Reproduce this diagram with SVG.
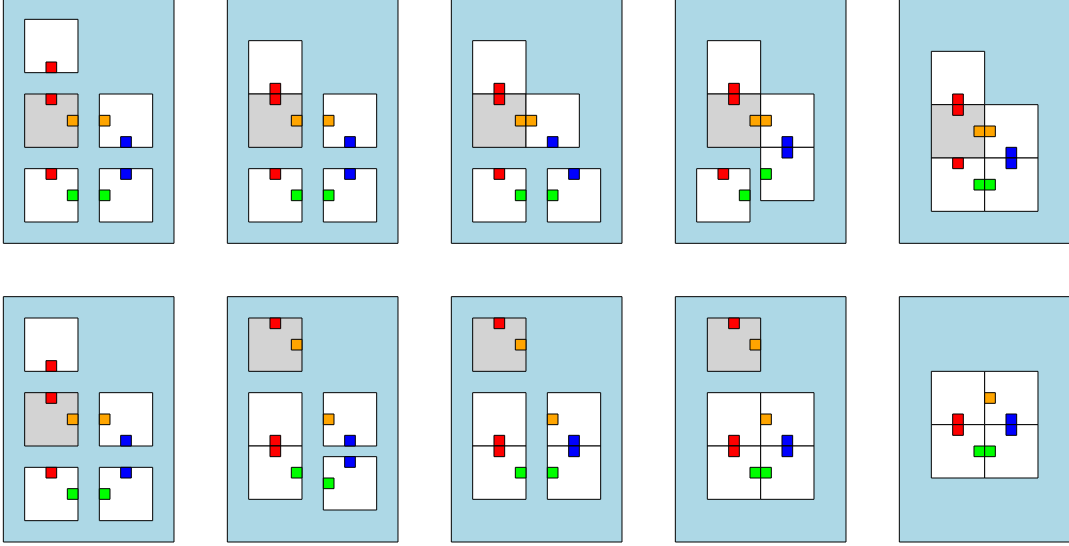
<svg xmlns="http://www.w3.org/2000/svg" width="1069" height="546" viewBox="0 0 1069 546">
<style>
rect{vector-effect:non-scaling-stroke;stroke:#000;stroke-width:1}
.panel{fill:#add8e6}
.t{fill:#fff}
.gy{fill:#d3d3d3}
.r{fill:#ff0000}
.o{fill:#ffa500}
.b{fill:#0000ff}
.g{fill:#00ff00}
</style>
<defs>
<rect id="T" width="5" height="5"/>
<rect id="M" width="1" height="1"/>
</defs>
<g id="connectors"/>
<!-- top row -->
<g id="panel-1" transform="translate(3.33,-2) scale(10.6667)">
<rect class="panel" width="16" height="23"/>
<g id="p1-tileA"><rect class="t" x="2" y="2" width="5" height="5"/><rect class="r" x="4" y="6" width="1" height="1"/></g>
<g id="p1-tileB"><rect class="gy" x="2" y="9" width="5" height="5"/><rect class="r" x="4" y="9" width="1" height="1"/><rect class="o" x="6" y="11" width="1" height="1"/></g>
<g id="p1-tileC"><rect class="t" x="9" y="9" width="5" height="5"/><rect class="o" x="9" y="11" width="1" height="1"/><rect class="b" x="11" y="13" width="1" height="1"/></g>
<g id="p1-tileD"><rect class="t" x="2" y="16" width="5" height="5"/><rect class="r" x="4" y="16" width="1" height="1"/><rect class="g" x="6" y="18" width="1" height="1"/></g>
<g id="p1-tileE"><rect class="t" x="9" y="16" width="5" height="5"/><rect class="b" x="11" y="16" width="1" height="1"/><rect class="g" x="9" y="18" width="1" height="1"/></g>
</g>
<g id="panel-2" transform="translate(227.33,-2) scale(10.6667)">
<rect class="panel" width="16" height="23"/>
<g id="p2-tileA"><rect class="t" x="2" y="4" width="5" height="5"/><rect class="r" x="4" y="8" width="1" height="1"/></g>
<g id="p2-tileB"><rect class="gy" x="2" y="9" width="5" height="5"/><rect class="r" x="4" y="9" width="1" height="1"/><rect class="o" x="6" y="11" width="1" height="1"/></g>
<g id="p2-tileC"><rect class="t" x="9" y="9" width="5" height="5"/><rect class="o" x="9" y="11" width="1" height="1"/><rect class="b" x="11" y="13" width="1" height="1"/></g>
<g id="p2-tileD"><rect class="t" x="2" y="16" width="5" height="5"/><rect class="r" x="4" y="16" width="1" height="1"/><rect class="g" x="6" y="18" width="1" height="1"/></g>
<g id="p2-tileE"><rect class="t" x="9" y="16" width="5" height="5"/><rect class="b" x="11" y="16" width="1" height="1"/><rect class="g" x="9" y="18" width="1" height="1"/></g>
</g>
<g id="panel-3" transform="translate(451.33,-2) scale(10.6667)">
<rect class="panel" width="16" height="23"/>
<g id="p3-tileA"><rect class="t" x="2" y="4" width="5" height="5"/><rect class="r" x="4" y="8" width="1" height="1"/></g>
<g id="p3-tileB"><rect class="gy" x="2" y="9" width="5" height="5"/><rect class="r" x="4" y="9" width="1" height="1"/><rect class="o" x="6" y="11" width="1" height="1"/></g>
<g id="p3-tileC"><rect class="t" x="7" y="9" width="5" height="5"/><rect class="o" x="7" y="11" width="1" height="1"/><rect class="b" x="9" y="13" width="1" height="1"/></g>
<g id="p3-tileD"><rect class="t" x="2" y="16" width="5" height="5"/><rect class="r" x="4" y="16" width="1" height="1"/><rect class="g" x="6" y="18" width="1" height="1"/></g>
<g id="p3-tileE"><rect class="t" x="9" y="16" width="5" height="5"/><rect class="b" x="11" y="16" width="1" height="1"/><rect class="g" x="9" y="18" width="1" height="1"/></g>
</g>
<g id="panel-4" transform="translate(675.33,-2) scale(10.6667)">
<rect class="panel" width="16" height="23"/>
<g id="p4-tileA"><rect class="t" x="3" y="4" width="5" height="5"/><rect class="r" x="5" y="8" width="1" height="1"/></g>
<g id="p4-tileB"><rect class="gy" x="3" y="9" width="5" height="5"/><rect class="r" x="5" y="9" width="1" height="1"/><rect class="o" x="7" y="11" width="1" height="1"/></g>
<g id="p4-tileC"><rect class="t" x="8" y="9" width="5" height="5"/><rect class="o" x="8" y="11" width="1" height="1"/><rect class="b" x="10" y="13" width="1" height="1"/></g>
<g id="p4-tileE"><rect class="t" x="8" y="14" width="5" height="5"/><rect class="b" x="10" y="14" width="1" height="1"/><rect class="g" x="8" y="16" width="1" height="1"/></g>
<g id="p4-tileD"><rect class="t" x="2" y="16" width="5" height="5"/><rect class="r" x="4" y="16" width="1" height="1"/><rect class="g" x="6" y="18" width="1" height="1"/></g>
</g>
<g id="panel-5" transform="translate(899.33,-2) scale(10.6667)">
<rect class="panel" width="16" height="23"/>
<g id="p5-tileA"><rect class="t" x="3" y="5" width="5" height="5"/><rect class="r" x="5" y="9" width="1" height="1"/></g>
<g id="p5-tileB"><rect class="gy" x="3" y="10" width="5" height="5"/><rect class="r" x="5" y="10" width="1" height="1"/><rect class="o" x="7" y="12" width="1" height="1"/></g>
<g id="p5-tileC"><rect class="t" x="8" y="10" width="5" height="5"/><rect class="o" x="8" y="12" width="1" height="1"/><rect class="b" x="10" y="14" width="1" height="1"/></g>
<g id="p5-tileD"><rect class="t" x="3" y="15" width="5" height="5"/><rect class="r" x="5" y="15" width="1" height="1"/><rect class="g" x="7" y="17" width="1" height="1"/></g>
<g id="p5-tileE"><rect class="t" x="8" y="15" width="5" height="5"/><rect class="b" x="10" y="15" width="1" height="1"/><rect class="g" x="8" y="17" width="1" height="1"/></g>
</g>
<!-- bottom row -->
<g id="panel-6" transform="translate(3.33,296.67) scale(10.6667)">
<rect class="panel" width="16" height="23"/>
<g id="p6-tileA"><rect class="t" x="2" y="2" width="5" height="5"/><rect class="r" x="4" y="6" width="1" height="1"/></g>
<g id="p6-tileB"><rect class="gy" x="2" y="9" width="5" height="5"/><rect class="r" x="4" y="9" width="1" height="1"/><rect class="o" x="6" y="11" width="1" height="1"/></g>
<g id="p6-tileC"><rect class="t" x="9" y="9" width="5" height="5"/><rect class="o" x="9" y="11" width="1" height="1"/><rect class="b" x="11" y="13" width="1" height="1"/></g>
<g id="p6-tileD"><rect class="t" x="2" y="16" width="5" height="5"/><rect class="r" x="4" y="16" width="1" height="1"/><rect class="g" x="6" y="18" width="1" height="1"/></g>
<g id="p6-tileE"><rect class="t" x="9" y="16" width="5" height="5"/><rect class="b" x="11" y="16" width="1" height="1"/><rect class="g" x="9" y="18" width="1" height="1"/></g>
</g>
<g id="panel-7" transform="translate(227.33,296.67) scale(10.6667)">
<rect class="panel" width="16" height="23"/>
<g id="p7-tileB"><rect class="gy" x="2" y="2" width="5" height="5"/><rect class="r" x="4" y="2" width="1" height="1"/><rect class="o" x="6" y="4" width="1" height="1"/></g>
<g id="p7-tileA"><rect class="t" x="2" y="9" width="5" height="5"/><rect class="r" x="4" y="13" width="1" height="1"/></g>
<g id="p7-tileD"><rect class="t" x="2" y="14" width="5" height="5"/><rect class="r" x="4" y="14" width="1" height="1"/><rect class="g" x="6" y="16" width="1" height="1"/></g>
<g id="p7-tileC"><rect class="t" x="9" y="9" width="5" height="5"/><rect class="o" x="9" y="11" width="1" height="1"/><rect class="b" x="11" y="13" width="1" height="1"/></g>
<g id="p7-tileE"><rect class="t" x="9" y="15" width="5" height="5"/><rect class="b" x="11" y="15" width="1" height="1"/><rect class="g" x="9" y="17" width="1" height="1"/></g>
</g>
<g id="panel-8" transform="translate(451.33,296.67) scale(10.6667)">
<rect class="panel" width="16" height="23"/>
<g id="p8-tileB"><rect class="gy" x="2" y="2" width="5" height="5"/><rect class="r" x="4" y="2" width="1" height="1"/><rect class="o" x="6" y="4" width="1" height="1"/></g>
<g id="p8-tileA"><rect class="t" x="2" y="9" width="5" height="5"/><rect class="r" x="4" y="13" width="1" height="1"/></g>
<g id="p8-tileD"><rect class="t" x="2" y="14" width="5" height="5"/><rect class="r" x="4" y="14" width="1" height="1"/><rect class="g" x="6" y="16" width="1" height="1"/></g>
<g id="p8-tileC"><rect class="t" x="9" y="9" width="5" height="5"/><rect class="o" x="9" y="11" width="1" height="1"/><rect class="b" x="11" y="13" width="1" height="1"/></g>
<g id="p8-tileE"><rect class="t" x="9" y="14" width="5" height="5"/><rect class="b" x="11" y="14" width="1" height="1"/><rect class="g" x="9" y="16" width="1" height="1"/></g>
</g>
<g id="panel-9" transform="translate(675.33,296.67) scale(10.6667)">
<rect class="panel" width="16" height="23"/>
<g id="p9-tileB"><rect class="gy" x="3" y="2" width="5" height="5"/><rect class="r" x="5" y="2" width="1" height="1"/><rect class="o" x="7" y="4" width="1" height="1"/></g>
<g id="p9-tileA"><rect class="t" x="3" y="9" width="5" height="5"/><rect class="r" x="5" y="13" width="1" height="1"/></g>
<g id="p9-tileC"><rect class="t" x="8" y="9" width="5" height="5"/><rect class="o" x="8" y="11" width="1" height="1"/><rect class="b" x="10" y="13" width="1" height="1"/></g>
<g id="p9-tileD"><rect class="t" x="3" y="14" width="5" height="5"/><rect class="r" x="5" y="14" width="1" height="1"/><rect class="g" x="7" y="16" width="1" height="1"/></g>
<g id="p9-tileE"><rect class="t" x="8" y="14" width="5" height="5"/><rect class="b" x="10" y="14" width="1" height="1"/><rect class="g" x="8" y="16" width="1" height="1"/></g>
</g>
<g id="panel-10" transform="translate(899.33,296.67) scale(10.6667)">
<rect class="panel" width="16" height="23"/>
<g id="p10-tileA"><rect class="t" x="3" y="7" width="5" height="5"/><rect class="r" x="5" y="11" width="1" height="1"/></g>
<g id="p10-tileC"><rect class="t" x="8" y="7" width="5" height="5"/><rect class="o" x="8" y="9" width="1" height="1"/><rect class="b" x="10" y="11" width="1" height="1"/></g>
<g id="p10-tileD"><rect class="t" x="3" y="12" width="5" height="5"/><rect class="r" x="5" y="12" width="1" height="1"/><rect class="g" x="7" y="14" width="1" height="1"/></g>
<g id="p10-tileE"><rect class="t" x="8" y="12" width="5" height="5"/><rect class="b" x="10" y="12" width="1" height="1"/><rect class="g" x="8" y="14" width="1" height="1"/></g>
</g>
</svg>
